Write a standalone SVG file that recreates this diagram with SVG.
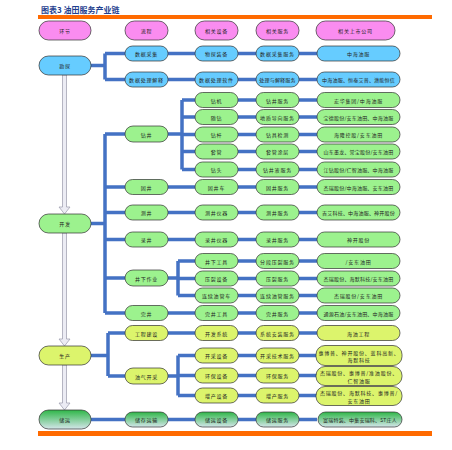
<svg xmlns="http://www.w3.org/2000/svg" width="452" height="450" viewBox="0 0 452 450">
<defs>
<linearGradient id="gStore" x1="0" y1="0" x2="0" y2="1">
<stop offset="0" stop-color="#2FB648"/>
<stop offset="1" stop-color="#D4E6EA"/>
</linearGradient>
</defs>
<style>
.p{stroke:#303030;stroke-width:0.7}
.pink{fill:#FA8CF0}
.blue{fill:#66CCFF}
.green{fill:#9CF28E}
.yg{fill:#DCF46C}
.st{fill:url(#gStore)}
.t{font-family:"Noto Sans CJK SC","Noto Sans CJK JP",sans-serif;font-size:5px;fill:#222;text-anchor:middle;dominant-baseline:central;letter-spacing:0.8px}
.n{letter-spacing:0.2px}
.c{stroke:#4472C4;stroke-width:3.5;fill:none}
.ar{fill:#ECECF4;stroke:#9A9AAA;stroke-width:0.7}
.bar{fill:#FF6A00}
.title{font-family:"Noto Sans CJK SC",sans-serif;font-size:8px;font-weight:bold;fill:#1F3F8F}
</style>
<rect width="452" height="450" fill="#fff"/>
<text class="title" x="41" y="13">图表3  油田服务产业链</text>
<rect class="bar" x="38" y="15" width="394" height="4"/>
<rect class="bar" x="38" y="431" width="394" height="5"/>

<g id="connectors">
<path class="c" d="M91 65.5H105M105 53.5V79.5M105 53.5H125M105 79.5H125"/>
<path class="c" d="M168 53.5H195M238 53.5H256M299 53.5H317"/>
<path class="c" d="M168 79.5H195M238 79.5H256M299 79.5H317"/>
<path class="c" d="M91 223.5H105M105 134V313M105 134H125M105 187H125M105 212.5H125M105 239.5H125M105 278H125M105 313H125"/>
<path class="c" d="M168 134H182M182 100V169.5M182 100H195M182 117H195M182 134.5H195M182 151.5H195M182 169.5H195"/>
<path class="c" d="M238 100H256M238 117H256M238 134.5H256M238 151.5H256M238 169.5H256"/>
<path class="c" d="M299 100H317M299 117H317M299 134.5H317M299 151.5H317M299 169.5H317"/>
<path class="c" d="M168 187H195M238 187H256M299 187H317"/>
<path class="c" d="M168 212.5H195M238 212.5H256M299 212.5H317"/>
<path class="c" d="M168 239.5H195M238 239.5H256M299 239.5H317"/>
<path class="c" d="M168 278H178M178 261V295.5M178 261H195M178 278.5H195M178 295.5H195"/>
<path class="c" d="M238 261H256M238 278.5H256M238 295.5H256M299 261H317M299 278.5H317M299 295.5H317"/>
<path class="c" d="M168 313H195M238 313H256M299 313H317"/>
<path class="c" d="M91 355.5H108M108 333V376M108 333H125M108 376H125"/>
<path class="c" d="M168 333H195M238 333H256M299 333H317"/>
<path class="c" d="M168 376H178M178 355.5V395.5M178 355.5H195M178 375.5H195M178 395.5H195"/>
<path class="c" d="M238 355.5H256M238 375.5H256M238 395.5H256M299 355.5H317M299 375.5H317M299 395.5H317"/>
<path class="c" d="M91 419.5H125M168 419.5H195M238 419.5H256M299 419.5H317"/>
<polygon class="ar" points="62.5,75 66.5,75 66.5,207 70,207 64.5,214 59,207 62.5,207"/>
<polygon class="ar" points="62.5,233 66.5,233 66.5,339 70,339 64.5,346 59,339 62.5,339"/>
<polygon class="ar" points="62.5,365 66.5,365 66.5,403 70,403 64.5,410 59,403 62.5,403"/>
</g>

<g id="header">
<rect class="p pink" x="39" y="21" width="52" height="19" rx="9.5"/><text class="t" x="65" y="30.5">环节</text>
<rect class="p pink" x="125" y="21" width="43" height="19" rx="9.5"/><text class="t" x="146.5" y="30.5">流程</text>
<rect class="p pink" x="195" y="21" width="43" height="19" rx="9.5"/><text class="t" x="216.5" y="30.5">相关设备</text>
<rect class="p pink" x="256" y="21" width="43" height="19" rx="9.5"/><text class="t" x="277.5" y="30.5">相关服务</text>
<rect class="p pink" x="316" y="21" width="79" height="19" rx="9.5"/><text class="t" x="355.5" y="30.5">相关上市公司</text>
</g>

<g id="n-kantan"><rect class="p blue" x="39" y="56" width="52" height="19" rx="9.5"/><text class="t" x="65" y="65.5">勘探</text></g>
<g id="n-kaifa"><rect class="p green" x="39" y="214" width="52" height="19" rx="9.5"/><text class="t" x="65" y="223.5">开发</text></g>
<g id="n-shengchan"><rect class="p yg" x="39" y="346" width="52" height="19" rx="9.5"/><text class="t" x="65" y="355.5">生产</text></g>
<g id="n-chuyun"><rect class="p st" x="39" y="410" width="52" height="19" rx="9.5"/><text class="t" x="65" y="419.5">储运</text></g>

<g id="n-r1">
<rect class="p blue" x="125" y="46" width="43" height="15" rx="7.5"/><text class="t" x="146.5" y="53.5">数据采集</text>
<rect class="p blue" x="195" y="46" width="43" height="15" rx="7.5"/><text class="t" x="216.5" y="53.5">物探装备</text>
<rect class="p blue" x="256" y="46" width="43" height="15" rx="7.5"/><text class="t" x="277.5" y="53.5">数据采集服务</text>
<rect class="p blue" x="317" y="46" width="83" height="15" rx="7.5"/><text class="t" x="358.5" y="53.5">中海油服</text>
</g>
<g id="n-r2">
<rect class="p blue" x="125" y="72" width="43" height="15" rx="7.5"/><text class="t" x="146.5" y="79.5">数据处理解释</text>
<rect class="p blue" x="195" y="72" width="43" height="15" rx="7.5"/><text class="t" x="216.5" y="79.5">数据处理软件</text>
<rect class="p blue" x="256" y="72" width="43" height="15" rx="7.5"/><text class="t n" x="277.5" y="79.5">处理与解释服务</text>
<rect class="p blue" x="317" y="72" width="83" height="15" rx="7.5"/><text class="t n" x="358.5" y="79.5">中海油服、恒泰艾普、潜能恒信</text>
</g>

<g id="n-zuanjing"><rect class="p green" x="125" y="126" width="43" height="16" rx="8"/><text class="t" x="146.5" y="134">钻井</text></g>
<g id="n-zj1">
<rect class="p green" x="195" y="92.5" width="43" height="15" rx="7.5"/><text class="t" x="216.5" y="100">钻机</text>
<rect class="p green" x="256" y="92.5" width="43" height="15" rx="7.5"/><text class="t" x="277.5" y="100">钻井服务</text>
<rect class="p green" x="317" y="92.5" width="83" height="15" rx="7.5"/><text class="t" x="358.5" y="100">宏华集团/中海油服</text>
</g>
<g id="n-zj2">
<rect class="p green" x="195" y="109.5" width="43" height="15" rx="7.5"/><text class="t" x="216.5" y="117">随钻</text>
<rect class="p green" x="256" y="109.5" width="43" height="15" rx="7.5"/><text class="t" x="277.5" y="117">地质导向服务</text>
<rect class="p green" x="317" y="109.5" width="83" height="15" rx="7.5"/><text class="t n" x="358.5" y="117">宝德股份/安东油田、中海油服</text>
</g>
<g id="n-zj3">
<rect class="p green" x="195" y="127" width="43" height="15" rx="7.5"/><text class="t" x="216.5" y="134.5">钻杆</text>
<rect class="p green" x="256" y="127" width="43" height="15" rx="7.5"/><text class="t" x="277.5" y="134.5">钻具检测</text>
<rect class="p green" x="317" y="127" width="83" height="15" rx="7.5"/><text class="t" x="358.5" y="134.5">海隆控股/安东油田</text>
</g>
<g id="n-zj4">
<rect class="p green" x="195" y="144" width="43" height="15" rx="7.5"/><text class="t" x="216.5" y="151.5">套管</text>
<rect class="p green" x="256" y="144" width="43" height="15" rx="7.5"/><text class="t" x="277.5" y="151.5">套管涂层</text>
<rect class="p green" x="317" y="144" width="83" height="15" rx="7.5"/><text class="t n" x="358.5" y="151.5">山东墨龙、常宝股份/安东油田</text>
</g>
<g id="n-zj5">
<rect class="p green" x="195" y="162" width="43" height="15" rx="7.5"/><text class="t" x="216.5" y="169.5">钻头</text>
<rect class="p green" x="256" y="162" width="43" height="15" rx="7.5"/><text class="t" x="277.5" y="169.5">钻井液服务</text>
<rect class="p green" x="317" y="162" width="83" height="15" rx="7.5"/><text class="t n" x="358.5" y="169.5">江钻股份/仁智油服、中海油服</text>
</g>

<g id="n-gujing">
<rect class="p green" x="125" y="179.5" width="43" height="15" rx="7.5"/><text class="t" x="146.5" y="187">固井</text>
<rect class="p green" x="195" y="179.5" width="43" height="15" rx="7.5"/><text class="t" x="216.5" y="187">固井车</text>
<rect class="p green" x="256" y="179.5" width="43" height="15" rx="7.5"/><text class="t" x="277.5" y="187">固井服务</text>
<rect class="p green" x="317" y="179.5" width="83" height="15" rx="7.5"/><text class="t n" x="358.5" y="187">杰瑞股份/中海油服、安东油田</text>
</g>
<g id="n-cejing">
<rect class="p green" x="125" y="205" width="43" height="15" rx="7.5"/><text class="t" x="146.5" y="212.5">测井</text>
<rect class="p green" x="195" y="205" width="43" height="15" rx="7.5"/><text class="t" x="216.5" y="212.5">测井仪器</text>
<rect class="p green" x="256" y="205" width="43" height="15" rx="7.5"/><text class="t" x="277.5" y="212.5">测井服务</text>
<rect class="p green" x="317" y="205" width="83" height="15" rx="7.5"/><text class="t n" x="358.5" y="212.5">吉艾科技、中海油服、神开股份</text>
</g>
<g id="n-lujing">
<rect class="p green" x="125" y="232" width="43" height="15" rx="7.5"/><text class="t" x="146.5" y="239.5">录井</text>
<rect class="p green" x="195" y="232" width="43" height="15" rx="7.5"/><text class="t" x="216.5" y="239.5">录井仪器</text>
<rect class="p green" x="256" y="232" width="43" height="15" rx="7.5"/><text class="t" x="277.5" y="239.5">录井服务</text>
<rect class="p green" x="317" y="232" width="83" height="15" rx="7.5"/><text class="t" x="358.5" y="239.5">神开股份</text>
</g>

<g id="n-jingxia"><rect class="p green" x="125" y="270" width="43" height="16" rx="8"/><text class="t" x="146.5" y="278">井下作业</text></g>
<g id="n-jx1">
<rect class="p green" x="195" y="253.5" width="43" height="15" rx="7.5"/><text class="t" x="216.5" y="261">井下工具</text>
<rect class="p green" x="256" y="253.5" width="43" height="15" rx="7.5"/><text class="t" x="277.5" y="261">分段压裂服务</text>
<rect class="p green" x="317" y="253.5" width="83" height="15" rx="7.5"/><text class="t" x="358.5" y="261">/安东油田</text>
</g>
<g id="n-jx2">
<rect class="p green" x="195" y="271" width="43" height="15" rx="7.5"/><text class="t" x="216.5" y="278.5">压裂设备</text>
<rect class="p green" x="256" y="271" width="43" height="15" rx="7.5"/><text class="t" x="277.5" y="278.5">压裂服务</text>
<rect class="p green" x="317" y="271" width="83" height="15" rx="7.5"/><text class="t n" x="358.5" y="278.5">杰瑞股份、海默科技/安东油田</text>
</g>
<g id="n-jx3">
<rect class="p green" x="195" y="288" width="43" height="15" rx="7.5"/><text class="t" x="216.5" y="295.5">连续油管车</text>
<rect class="p green" x="256" y="288" width="43" height="15" rx="7.5"/><text class="t" x="277.5" y="295.5">连续油管服务</text>
<rect class="p green" x="317" y="288" width="83" height="15" rx="7.5"/><text class="t" x="358.5" y="295.5">杰瑞股份/安东油田</text>
</g>
<g id="n-wanjing">
<rect class="p green" x="125" y="305.5" width="43" height="15" rx="7.5"/><text class="t" x="146.5" y="313">完井</text>
<rect class="p green" x="195" y="305.5" width="43" height="15" rx="7.5"/><text class="t" x="216.5" y="313">完井工具</text>
<rect class="p green" x="256" y="305.5" width="43" height="15" rx="7.5"/><text class="t" x="277.5" y="313">完井服务</text>
<rect class="p green" x="317" y="305.5" width="83" height="15" rx="7.5"/><text class="t n" x="358.5" y="313">通源石油/安东油田、中海油服</text>
</g>

<g id="n-gongcheng">
<rect class="p yg" x="125" y="325.5" width="43" height="15" rx="7.5"/><text class="t" x="146.5" y="333">工程建设</text>
<rect class="p yg" x="195" y="325.5" width="43" height="15" rx="7.5"/><text class="t" x="216.5" y="333">开发系统</text>
<rect class="p yg" x="256" y="325.5" width="43" height="15" rx="7.5"/><text class="t" x="277.5" y="333">系统安装服务</text>
<rect class="p yg" x="317" y="325.5" width="83" height="15" rx="7.5"/><text class="t" x="358.5" y="333">海油工程</text>
</g>
<g id="n-kaicai"><rect class="p yg" x="125" y="368" width="43" height="16" rx="8"/><text class="t" x="146.5" y="376">油气开采</text></g>
<g id="n-kc1">
<rect class="p yg" x="195" y="348" width="43" height="15" rx="7.5"/><text class="t" x="216.5" y="355.5">开采设备</text>
<rect class="p yg" x="256" y="348" width="43" height="15" rx="7.5"/><text class="t" x="277.5" y="355.5">开采技术服务</text>
<rect class="p yg" x="316" y="345.5" width="86" height="20" rx="9"/><text class="t" x="359" y="352">惠博普、神开股份、蓝科高新、</text><text class="t" x="359" y="359.5">海默科技</text>
</g>
<g id="n-kc2">
<rect class="p yg" x="195" y="368" width="43" height="15" rx="7.5"/><text class="t" x="216.5" y="375.5">环保设备</text>
<rect class="p yg" x="256" y="368" width="43" height="15" rx="7.5"/><text class="t" x="277.5" y="375.5">环保服务</text>
<rect class="p yg" x="316" y="366.5" width="86" height="19" rx="9"/><text class="t" x="359" y="372.5">杰瑞股份、惠博普/准油股份、</text><text class="t" x="359" y="380">仁智油服</text>
</g>
<g id="n-kc3">
<rect class="p yg" x="195" y="388" width="43" height="15" rx="7.5"/><text class="t" x="216.5" y="395.5">增产设备</text>
<rect class="p yg" x="256" y="388" width="43" height="15" rx="7.5"/><text class="t" x="277.5" y="395.5">增产服务</text>
<rect class="p yg" x="316" y="386.5" width="86" height="19" rx="9"/><text class="t" x="359" y="392.5">杰瑞股份、海默科技、惠博普/</text><text class="t" x="359" y="400">安东油田</text>
</g>
<g id="n-storage">
<rect class="p st" x="125" y="412" width="43" height="15" rx="7.5"/><text class="t" x="146.5" y="419.5">储存运输</text>
<rect class="p st" x="195" y="412" width="43" height="15" rx="7.5"/><text class="t" x="216.5" y="419.5">储运设备</text>
<rect class="p st" x="256" y="412" width="43" height="15" rx="7.5"/><text class="t" x="277.5" y="419.5">储运服务</text>
<rect class="p st" x="318" y="412" width="84" height="15" rx="7.5"/><text class="t n" x="360" y="419.5">富瑞特装、中集安瑞科、ST庄人</text>
</g>
</svg>
